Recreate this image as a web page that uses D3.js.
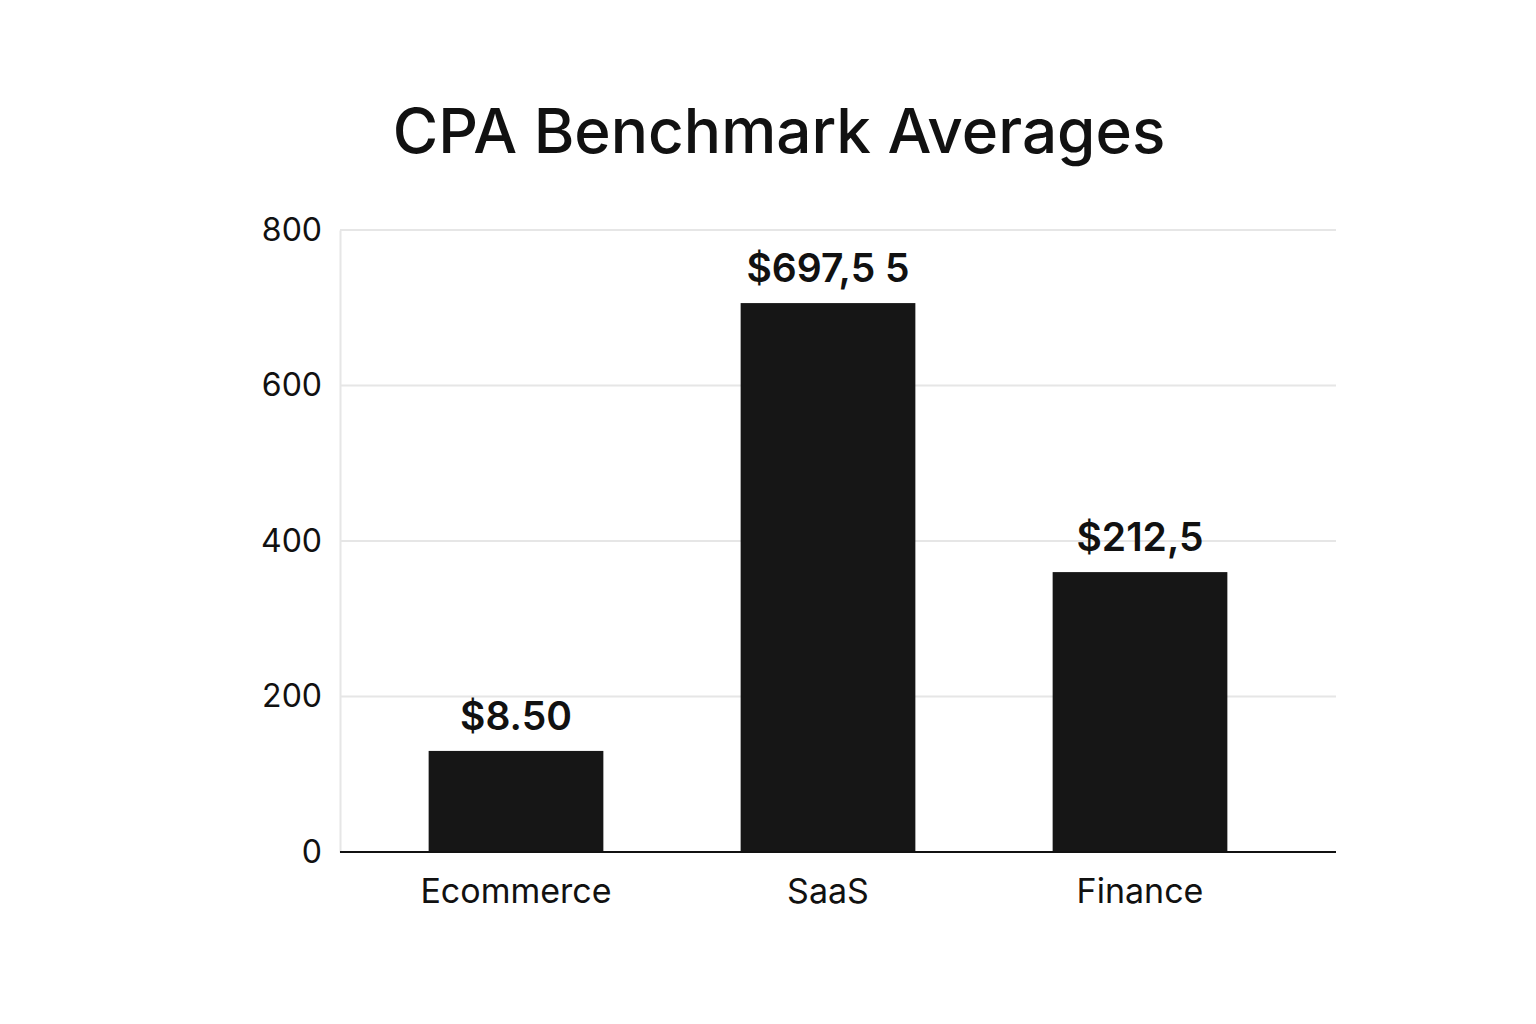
<!DOCTYPE html>
<html>
<head>
<meta charset="utf-8">
<script src="https://cdn.jsdelivr.net/npm/d3@7"></script>
<style>
  body { margin: 0; background: #fff; }
  text { font-family: Inter, "Liberation Sans", sans-serif; fill: #111; }
</style>
</head>
<body>
<script>
//DATA
const categories = ["Ecommerce", "SaaS", "Finance"];
const values = [130, 706, 360];
const valueLabels = ["$8.50", "$697,5 5", "$212,5"];
const yTicks = [0, 200, 400, 600, 800];

//SIZES
const svgwidth = 1536;
const svgheight = 1024;
const plot = { left: 340, right: 1336, top: 230, bottom: 852 };

const svg = d3.select("body").append("svg")
  .attr("width", svgwidth)
  .attr("height", svgheight);

//TITLE
svg.append("text")
  .attr("x", 779)
  .attr("y", 153)
  .attr("text-anchor", "middle")
  .attr("font-size", 62)
  .attr("font-weight", 500)
  .text("CPA Benchmark Averages");

//SCALES
const X = d3.scaleBand()
  .domain(categories)
  .range([360, 1296])
  .paddingInner(0.44)
  .paddingOuter(0.22);

const Y = d3.scaleLinear()
  .domain([0, 800])
  .range([plot.bottom, plot.top]);

//GRIDLINES
svg.append("g").selectAll("line")
  .data(yTicks.filter(d => d > 0))
  .join("line")
  .attr("x1", plot.left)
  .attr("x2", plot.right)
  .attr("y1", d => Y(d))
  .attr("y2", d => Y(d))
  .attr("stroke", "#e6e6e6")
  .attr("stroke-width", 2);

//LEFT AXIS (light)
const yaxis = svg.append("g")
  .attr("transform", `translate(${plot.left},0)`)
  .call(d3.axisLeft(Y).tickValues(yTicks).tickSize(0).tickPadding(18));
yaxis.select(".domain").attr("stroke", "#e6e6e6").attr("stroke-width", 2);
yaxis.selectAll("text")
  .attr("font-size", 32)
  .attr("font-family", "Inter, sans-serif")
  .attr("fill", "#111");

//BARS
svg.append("g").selectAll("rect")
  .data(values)
  .join("rect")
  .attr("x", (d, i) => X(categories[i]))
  .attr("width", X.bandwidth())
  .attr("y", d => Y(d))
  .attr("height", d => Y(0) - Y(d))
  .attr("fill", "#161616");

//VALUE LABELS
svg.append("g").selectAll("text")
  .data(values)
  .join("text")
  .attr("x", (d, i) => X(categories[i]) + X.bandwidth() / 2)
  .attr("y", d => Y(d) - 21)
  .attr("text-anchor", "middle")
  .attr("font-size", 39)
  .attr("font-weight", 600)
  .text((d, i) => valueLabels[i]);

//BOTTOM AXIS
const xaxis = svg.append("g")
  .attr("transform", `translate(0,${plot.bottom})`)
  .call(d3.axisBottom(X).tickSize(0).tickPadding(27));
xaxis.select(".domain")
  .attr("d", `M${plot.left},0H${plot.right}`)
  .attr("stroke", "#111")
  .attr("stroke-width", 2);
xaxis.selectAll("text")
  .attr("font-size", 34)
  .attr("font-family", "Inter, sans-serif")
  .attr("fill", "#111");
</script>
</body>
</html>
